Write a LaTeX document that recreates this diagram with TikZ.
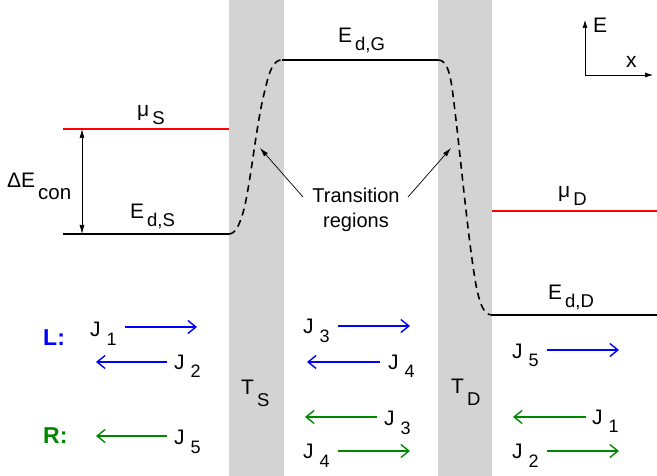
\documentclass[tikz,border=0pt]{standalone}
\usepackage{fontspec}
\setmainfont{Liberation Sans}
\usetikzlibrary{arrows.meta,positioning}
\definecolor{levred}{RGB}{255,0,0}
\definecolor{fluxblue}{RGB}{0,0,255}
\definecolor{fluxgreen}{RGB}{0,135,0}
\definecolor{barrier}{RGB}{211,211,211}
\newcommand{\sublbl}[3][8pt]{#2\kern3pt\raisebox{-#1}{\fontsize{18.5}{18.5}\selectfont #3}}
\newcommand{\flux}[1]{J\kern6pt\raisebox{-9pt}{\fontsize{18}{18}\selectfont #1}}

\begin{document}
\begin{tikzpicture}[x=1pt, y=-1pt,
  every node/.style={font=\fontsize{21}{25}\selectfont, inner sep=0pt},
  txt/.style={anchor=base west},
  lvl/.style={line width=1.8pt},
  trans/.style={line width=1.6pt, dash pattern=on 7pt off 5pt},
  fluxarr/.style={line width=1.4pt, -{Straight Barb[length=8pt, width=13pt, line width=1.4pt]}},
  note/.style={line width=0.7pt, -{Latex[length=9pt, width=5pt]}},
  tag/.style={anchor=base west, font=\fontsize{23}{25}\selectfont\bfseries}
]
\useasboundingbox (0,0) rectangle (657,476);

% tunnel barriers
\fill[barrier] (229,0) rectangle (284,476);
\fill[barrier] (438,0) rectangle (492,476);

% levels
\coordinate (muSa) at (63,129);  \coordinate (muSb) at (229,129);
\coordinate (EdSa) at (63,234);  \coordinate (EdSb) at (229,234);
\coordinate (EdGa) at (282,60);  \coordinate (EdGb) at (438,60);
\coordinate (muDa) at (492,211); \coordinate (muDb) at (657,211);
\coordinate (EdDa) at (492,315); \coordinate (EdDb) at (657,315);
\draw[lvl, levred] (muSa) -- (muSb);
\draw[lvl, levred] (muDa) -- (muDb);
\draw[lvl] (EdSa) -- (EdSb);
\draw[lvl] (EdGa) -- (EdGb);
\draw[lvl] (EdDa) -- (EdDb);

% transition regions
\draw[trans] (EdSb) .. controls (236,234) and (241,222) .. (245,205)
  .. controls (252,172) and (257,120) .. (265,90)
  .. controls (270,68) and (274,60) .. (EdGa);
\draw[trans] (EdGb) .. controls (446,60) and (450,70) .. (453,95)
  .. controls (460,150) and (468,240) .. (476,285)
  .. controls (480,305) and (484,315) .. (EdDa);

% level labels
\node[txt] (muS) at (137,117) {\sublbl{μ}{S}};
\node[txt] (EdS) at (130,219) {\sublbl{E}{d,S}};
\node[txt] (EdG) at (338,43) {\sublbl{E}{d,G}};
\node[txt] (muD) at (558,198) {\sublbl{μ}{D}};
\node[txt] (EdD) at (548,300) {\sublbl{E}{d,D}};
\node[txt] (dEcon) at (7,188) {ΔE\kern3pt\raisebox{-12pt}{\fontsize{20.5}{20.5}\selectfont con}};
\coordinate (dEtop) at (82,129);
\coordinate (dEbot) at (82,234);
\draw[line width=0.7pt, {Latex[length=9pt, width=5pt]}-{Latex[length=9pt, width=5pt]}] (dEtop) -- (dEbot);

\node[align=center, font=\fontsize{20}{24.5}\selectfont] (trreg) at (356,210) {Transition\\regions};
\coordinate (trLs) at (303,197); \coordinate (trL) at (260,148);
\coordinate (trRs) at (408,197); \coordinate (trR) at (451,148);
\draw[note] (trLs) -- (trL);
\draw[note] (trRs) -- (trR);

% axes
\coordinate (ax0) at (585,75);
\coordinate (axE) at (585,20);
\coordinate (axX) at (653,75);
\draw[line width=0.7pt, -{Latex[length=8pt, width=5pt]}] (ax0) -- (axE);
\draw[line width=0.7pt, -{Latex[length=8pt, width=5pt]}] (ax0) -- (axX);
\node[txt] (lblE) at (593,33) {E};
\node[txt] (lblx) at (626,68) {x};

% barrier labels
\node[txt] (TS) at (241,395) {\sublbl[12pt]{T}{S}};
\node[txt] (TD) at (451,393) {\sublbl[12pt]{T}{D}};

% currents: L
\node[tag, fluxblue] (L) at (43,345) {L:};
\node[txt] (J1a) at (90,337) {\flux{1}};
\node[txt] (J2a) at (174,369) {\flux{2}};
\node[txt] (J3a) at (303,334) {\flux{3}};
\node[txt] (J4a) at (388,369) {\flux{4}};
\node[txt] (J5a) at (512,358) {\flux{5}};
\coordinate (a1s) at (125,327); \coordinate (a1e) at (197,327);
\coordinate (a2s) at (167,362); \coordinate (a2e) at (96,362);
\coordinate (a3s) at (338,326); \coordinate (a3e) at (410,326);
\coordinate (a4s) at (380,362); \coordinate (a4e) at (307,362);
\coordinate (a5s) at (547,350); \coordinate (a5e) at (619,350);
\foreach \k in {1,...,5}
  \draw[fluxarr, fluxblue] (a\k s) -- (a\k e);

% currents: R
\node[tag, fluxgreen] (R) at (43,443) {R:};
\node[txt] (J5b) at (174,444) {\flux{5}};
\node[txt] (J3b) at (384,425) {\flux{3}};
\node[txt] (J4b) at (303,458) {\flux{4}};
\node[txt] (J1b) at (592,424) {\flux{1}};
\node[txt] (J2b) at (512,458) {\flux{2}};
\coordinate (b5s) at (167,436); \coordinate (b5e) at (96,436);
\coordinate (b3s) at (377,417); \coordinate (b3e) at (305,417);
\coordinate (b4s) at (338,451); \coordinate (b4e) at (410,451);
\coordinate (b1s) at (586,417); \coordinate (b1e) at (513,417);
\coordinate (b2s) at (547,451); \coordinate (b2e) at (619,451);
\foreach \k in {1,...,5}
  \draw[fluxarr, fluxgreen] (b\k s) -- (b\k e);
\end{tikzpicture}
\end{document}
